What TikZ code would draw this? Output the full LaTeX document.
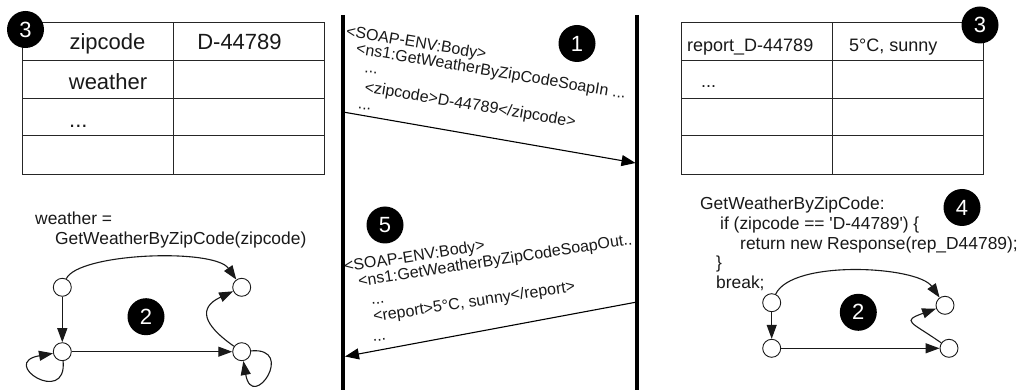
\documentclass[tikz,border=0pt]{standalone}
\usepackage{fontspec}
\setmainfont{Liberation Sans}
\usetikzlibrary{arrows.meta}
\begin{document}
\begin{tikzpicture}[x=1pt,y=1pt,
  badge/.style={circle,fill=black,minimum size=37pt,inner sep=0pt,text=white,font=\fontsize{22}{24}\selectfont},
  stnode/.style={circle,draw=black!90,fill=white,minimum size=18pt,inner sep=0pt,line width=0.9pt},
  garrow/.style={draw=black!90,line width=1.1pt,-{Triangle[length=14pt,width=10pt]}},
  msgarrow/.style={line width=1.1pt,-{Triangle[length=14pt,width=11pt]}},
  lifeline/.style={line width=3.3pt},
  tline/.style={draw=black!85,line width=1pt},
  soaptxt/.style={font=\fontsize{16}{18}\selectfont,inner sep=0pt,anchor=base west,text=black!90},
  codetxt/.style={font=\fontsize{17.4}{20}\selectfont,inner sep=0pt,anchor=base west,text=black!90},
  tbig/.style={font=\fontsize{22}{24}\selectfont,inner sep=0pt,text=black!90},
  tmid/.style={font=\fontsize{18}{20}\selectfont,inner sep=0pt,anchor=base west,text=black!90},
]
\useasboundingbox (0,0) rectangle (1021,-390);
\fill[white] (0,0) rectangle (1021,-390);

% ---------- left table ----------
\draw[tline] (22,-22.7) rectangle (324,-175);
\foreach \yy in {60.7,98.7,136} \draw[tline] (22,-\yy) -- (324,-\yy);
\draw[tline] (173,-22.7) -- (173,-175);
\node[tbig,anchor=base] (lzip) at (107.5,-50) {zipcode};
\node[tbig,anchor=base] (lzipv) at (239.5,-50) {D-44789};
\node[tbig,anchor=base] (lwea) at (108,-90) {weather};
\node[tbig,anchor=base west] (ldots) at (69,-128) {...};

% ---------- right table ----------
\draw[tline] (681,-23) rectangle (983,-175);
\foreach \yy in {61,99,136} \draw[tline] (681,-\yy) -- (983,-\yy);
\draw[tline] (832,-23) -- (832,-175);
\node[tmid] (rrep) at (687,-52) {report\_D-44789};
\node[tmid] (rrepv) at (849,-52) {5°C, sunny};
\node[tmid] (rdots) at (701,-88) {...};

% ---------- lifelines ----------
\coordinate (llt) at (343,-15);
\coordinate (llb) at (343,-390);
\coordinate (rlt) at (637,-15);
\coordinate (rlb) at (637,-390);
\draw[lifeline] (llt) -- (llb);
\draw[lifeline] (rlt) -- (rlb);

% ---------- messages ----------
\coordinate (m1a) at (343,-112);
\coordinate (m1b) at (635.5,-163);
\draw[msgarrow] (m1a) -- (m1b);
\coordinate (m5a) at (637,-302);
\coordinate (m5b) at (345,-356.5);
\draw[msgarrow] (m5a) -- (m5b);

\node[soaptxt,rotate=-9.5] (s1a) at (345.5,-36) {<SOAP-ENV:Body>};
\node[soaptxt,rotate=-9.5] (s1b) at (355.5,-53.5) {<ns1:GetWeatherByZipCodeSoapIn ...};
\node[soaptxt,rotate=-9.5] (s1c) at (364,-72) {...};
\node[soaptxt,rotate=-9.5] (s1d) at (364,-92) {<zipcode>D-44789</zipcode>};
\node[soaptxt,rotate=-9.5] (s1e) at (357.5,-108.5) {...};

\node[soaptxt,rotate=8.7] (s5a) at (345,-272) {<SOAP-ENV:Body>};
\node[soaptxt,rotate=8.7] (s5b) at (359,-286.5) {<ns1:GetWeatherByZipCodeSoapOut..};
\node[soaptxt,rotate=8.7] (s5c) at (371.5,-305) {...};
\node[soaptxt,rotate=8.7] (s5d) at (374,-322) {<report>5°C, sunny</report>};
\node[soaptxt,rotate=8.7] (s5e) at (373,-342) {...};

% ---------- code texts ----------
\node[codetxt] (lc1) at (35,-225) {weather =};
\node[codetxt] (lc2) at (55,-245) {GetWeatherByZipCode(zipcode)};

\node[codetxt] (rc1) at (700,-210) {GetWeatherByZipCode:};
\node[codetxt] (rc2) at (720,-229.6) {if (zipcode == \textquotesingle D-44789\textquotesingle) \{};
\node[codetxt] (rc3) at (740,-249.2) {return new Response(rep\_D44789);};
\node[codetxt] (rc4) at (716,-268.8) {\}};
\node[codetxt] (rc5) at (716,-288.4) {break;};

% ---------- left graph ----------
\node[stnode] (a1) at (62.3,-287.3) {};
\node[stnode] (a2) at (241.7,-287.3) {};
\node[stnode] (a3) at (62.3,-351.7) {};
\node[stnode] (a4) at (241.7,-351.7) {};
\draw[garrow] (a1) .. controls +(65:38) and +(125:48) .. (a2);
\draw[garrow] (a1) -- (a3);
\draw[garrow] (a3) -- (a4);
\draw[garrow] (a4) .. controls +(145:48) and +(205:48) .. (a2);
\draw[garrow] (a3) .. controls +(-85:55) and +(190:65) .. (a3);
\draw[garrow] (a4) .. controls +(5:55) and +(-80:62) .. (a4);

% ---------- right graph ----------
\node[stnode] (b1) at (771.7,-302.7) {};
\node[stnode] (b2) at (945,-305.3) {};
\node[stnode] (b3) at (771.7,-348.3) {};
\node[stnode] (b4) at (949,-348.3) {};
\draw[garrow] (b1) .. controls +(65:48) and +(125:48) .. (b2);
\draw[garrow] (b1) -- (b3);
\draw[garrow] (b3) -- (b4);
\draw[garrow] (b4) .. controls +(145:47) and +(200:47) .. (b2);

% ---------- badges ----------
\node[badge] (n3l) at (25.5,-29.5) {3};
\node[badge] (n3r) at (980,-25) {3};
\node[badge] (n1) at (577,-43.5) {1};
\node[badge] (n5) at (385,-225) {5};
\node[badge] (n4) at (962,-207.5) {4};
\node[badge] (n2l) at (146,-316.7) {2};
\node[badge] (n2r) at (858.3,-312.3) {2};
\end{tikzpicture}
\end{document}
